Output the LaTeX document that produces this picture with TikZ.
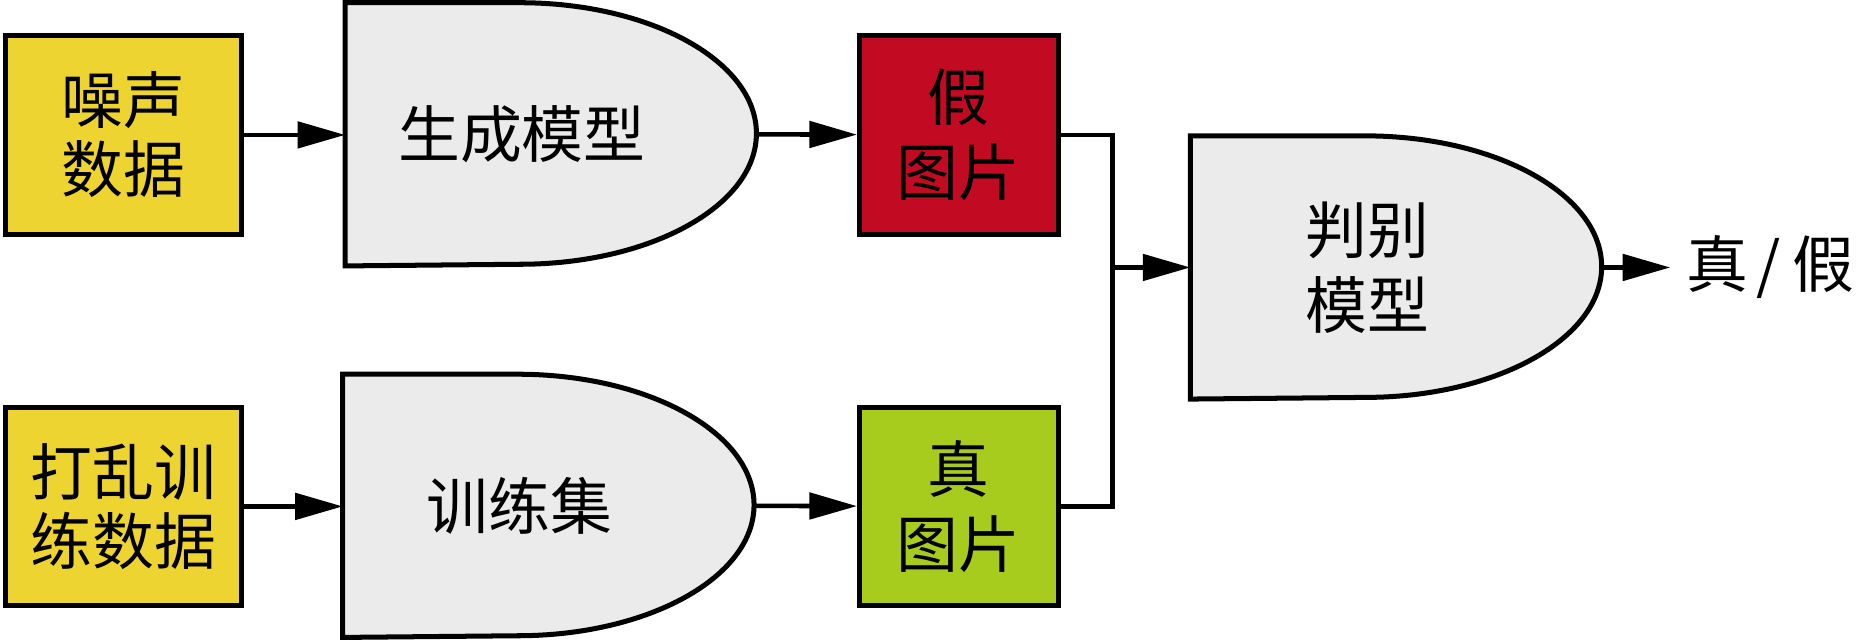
\documentclass[tikz,border=0pt]{standalone}
\usepackage{fontspec}
\newfontfamily\cjk{Noto Sans CJK SC}
\usepackage{tikz}
\usetikzlibrary{arrows.meta, calc, backgrounds}
\definecolor{noisey}{RGB}{238,212,48}
\definecolor{fakered}{RGB}{194,10,34}
\definecolor{realgreen}{RGB}{168,204,30}
\definecolor{gatefill}{RGB}{235,235,235}

\begin{document}
\begin{tikzpicture}[
  box/.style={draw, line width=1.2pt, minimum width=1.98cm, minimum height=1.67cm,
              inner sep=0pt, align=center, font=\cjk\fontsize{14.8}{16.5}\selectfont},
  small/.style={box, minimum width=1.67cm, font=\cjk\fontsize{14.8}{18}\selectfont},
  gate/.style={minimum width=2.96cm, minimum height=2.2cm, inner sep=0pt,
              align=center, font=\cjk\fontsize{14.8}{18}\selectfont},
  arrow/.style={-{Triangle[length=4mm, width=2.2mm]}, line width=1.1pt},
  wire/.style={line width=1.1pt},
]
\useasboundingbox (0,0) rectangle (15.68,5.40);

% Inputs
\node[box, fill=noisey] (noise) at (1.04, 4.265) {噪声\\数据};
\node[box, fill=noisey] (shuffle) at (1.04, 1.14) {打乱训\\练数据};

% Models
\node[gate] (gen) at (4.39, 4.27) {生成模型};
\node[gate] (train) at (4.37, 1.145) {训练集};
\node[gate] (disc) at (11.50, 3.15) {判别\\模型};

\begin{scope}[on background layer]
\foreach \g in {gen, train, disc}{
  \draw[line width=1.2pt, fill=gatefill] (\g.north west) -- ++(1.47,0)
    arc[start angle=90, end angle=-90, x radius=1.99cm, y radius=1.1cm]
    -- (\g.south west) -- cycle;
  \coordinate (\g-tip) at ($(\g.west)+(3.46,0)$);
}
\end{scope}

% Images
\node[small, fill=fakered] (fake) at (8.065, 4.265) {假\\图片};
\node[small, fill=realgreen] (real) at (8.065, 1.14) {真\\图片};

% Output
\node[anchor=west, inner sep=0.13cm, font=\cjk\fontsize{14.8}{16}\selectfont] (out) at (14.05, 3.15) {真\kern0.07cm/\kern0.1cm假};

% Arrows
\draw[arrow] (noise) -- (gen.west |- noise);
\draw[arrow] (shuffle) -- (train.west |- shuffle);
\draw[arrow] (gen-tip) -- (fake);
\draw[arrow] (train-tip) -- (real);

\coordinate (bus) at (9.36, 0);
\draw[wire] (fake.east) -- (fake.east -| bus) -- (real.east -| bus) -- (real.east);
\draw[arrow] (disc.west -| bus) -- (disc.west);
\draw[arrow] (disc-tip) -- (out.west);

\end{tikzpicture}
\end{document}
